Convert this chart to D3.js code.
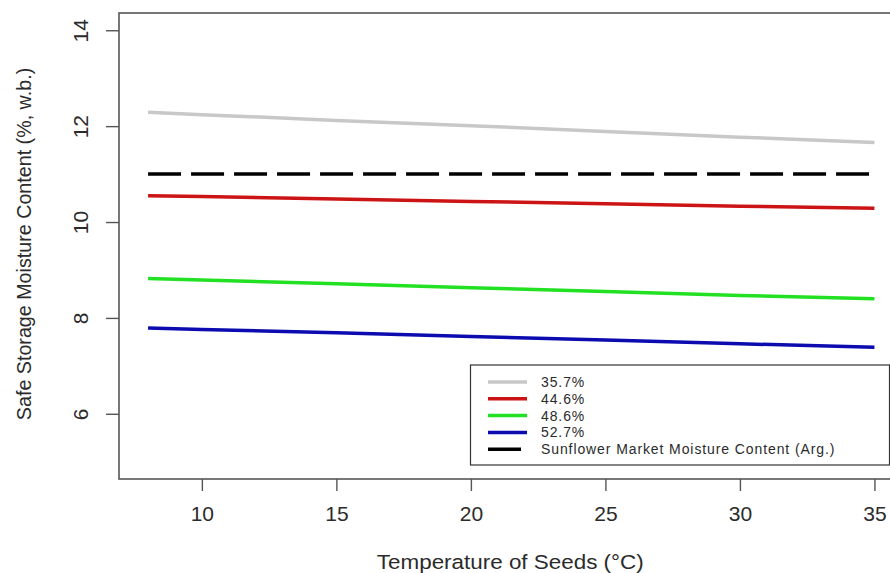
<!DOCTYPE html>
<html>
<head>
<meta charset="utf-8">
<script src="https://cdn.jsdelivr.net/npm/d3@7"></script>
<style>
  body { margin: 0; background: #fff; }
  svg { display: block; font-family: "Liberation Sans", Arial, sans-serif; }
</style>
</head>
<body>
<div id="chart"></div>
<script>
const width = 890;
const height = 573;

// data
const temps = [8, 10, 15, 20, 25, 30, 35];
const gray357 = [12.29, 12.24, 12.12, 12.01, 11.89, 11.77, 11.66];
const red446 = [10.55, 10.53, 10.48, 10.43, 10.38, 10.33, 10.29];
const green486 = [8.82, 8.79, 8.71, 8.63, 8.55, 8.47, 8.40];
const blue527 = [7.79, 7.76, 7.69, 7.61, 7.54, 7.46, 7.39];
const marketMC = [11, 11, 11, 11, 11, 11, 11];

const seriesNames = ['35.7%', '44.6%', '48.6%', '52.7%', 'Sunflower Market Moisture Content (Arg.)'];
const seriesColors = ['#c8c8c8', '#cc1414', '#22e022', '#0b0bb0', '#000000'];
const seriesDash = [null, null, null, null, '33,10'];
const seriesValues = [gray357, red446, green486, blue527, marketMC];

const xTicks = [10, 15, 20, 25, 30, 35];
const yTicks = [6, 8, 10, 12, 14];
const xTitle = 'Temperature of Seeds (°C)';
const yTitle = 'Safe Storage Moisture Content (%, w.b.)';

// plot box (R style, 4% padding around data range)
const boxL = 119, boxR = 903.5, boxT = 13, boxB = 479;

const x = d3.scaleLinear().domain([6.92, 36.08]).range([boxL, boxR]);
const y = d3.scaleLinear().domain([4.64, 14.36]).range([boxB, boxT]);

const svg = d3.select('#chart').append('svg')
  .attr('width', width)
  .attr('height', height);

const axisColor = '#555';
const textColor = '#2b2b2b';

// lines
const line = d3.line()
  .x((d, i) => x(temps[i]))
  .y(d => y(d));

svg.selectAll('path.series')
  .data(seriesValues)
  .join('path')
  .attr('class', 'series')
  .attr('d', d => line(d))
  .attr('fill', 'none')
  .attr('stroke', (d, i) => seriesColors[i])
  .attr('stroke-width', 3.5)
  .attr('stroke-dasharray', (d, i) => seriesDash[i]);

// box
svg.append('rect')
  .attr('x', boxL)
  .attr('y', boxT)
  .attr('width', boxR - boxL)
  .attr('height', boxB - boxT)
  .attr('fill', 'none')
  .attr('stroke', axisColor)
  .attr('stroke-width', 1.6);

// x axis
const gx = svg.append('g')
  .attr('transform', `translate(0,${boxB})`)
  .call(d3.axisBottom(x).tickValues(xTicks).tickSize(12).tickFormat(d3.format('d')));
gx.select('.domain').remove();
gx.selectAll('line').attr('stroke', axisColor).attr('stroke-width', 1.4);
gx.selectAll('text')
  .attr('y', 41.5)
  .attr('dy', 0)
  .attr('fill', textColor)
  .style('font-size', '21px');

// y axis
const gy = svg.append('g')
  .attr('transform', `translate(${boxL},0)`)
  .call(d3.axisLeft(y).tickValues(yTicks).tickSize(13).tickFormat(d3.format('d')));
gy.select('.domain').remove();
gy.selectAll('line').attr('stroke', axisColor).attr('stroke-width', 1.4);
gy.selectAll('text')
  .attr('x', 0)
  .attr('dy', 0)
  .attr('text-anchor', 'middle')
  .attr('transform', 'translate(-31.5,0) rotate(-90)')
  .attr('fill', textColor)
  .style('font-size', '21px');

// axis titles
svg.append('text')
  .attr('transform', `translate(${(boxL + boxR) / 2 - 1},568.5) scale(1.15,1)`)
  .attr('text-anchor', 'middle')
  .attr('fill', textColor)
  .style('font-size', '19.5px')
  .text(xTitle);

svg.append('text')
  .attr('transform', `translate(30.5,${(boxT + boxB) / 2 - 2}) rotate(-90)`)
  .attr('text-anchor', 'middle')
  .attr('fill', textColor)
  .style('font-size', '19.7px')
  .text(yTitle);

// legend
const legX = 470.5, legY = 365, legW = 419, legH = 100;
const legend = svg.append('g');
legend.append('rect')
  .attr('x', legX)
  .attr('y', legY)
  .attr('width', legW)
  .attr('height', legH)
  .attr('fill', '#fff')
  .attr('stroke', '#333')
  .attr('stroke-width', 1.2);

const rows = legend.selectAll('g.row')
  .data(seriesNames)
  .join('g')
  .attr('class', 'row')
  .attr('transform', (d, i) => `translate(0,${382 + i * 16.8})`);

rows.append('line')
  .attr('x1', 488)
  .attr('x2', 527)
  .attr('stroke', (d, i) => seriesColors[i])
  .attr('stroke-width', 3.5)
  .attr('stroke-dasharray', (d, i) => seriesDash[i]);

rows.append('text')
  .attr('x', 541)
  .attr('dy', '0.36em')
  .attr('fill', textColor)
  .style('font-size', '14px')
  .style('letter-spacing', '0.9px')
  .text(d => d);
</script>
</body>
</html>
